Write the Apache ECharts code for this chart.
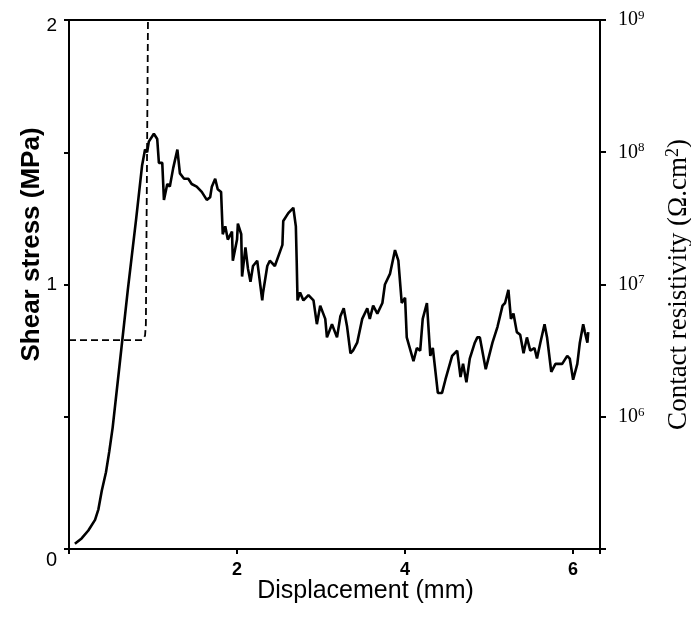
<!DOCTYPE html>
<html>
<head>
<meta charset="utf-8">
<script src="https://cdn.jsdelivr.net/npm/echarts@6/dist/echarts.min.js"></script>
<style>
  html, body { margin: 0; padding: 0; background: #fff; }
  #chart { width: 691px; height: 635px; }
</style>
</head>
<body>
<div id="chart"></div>
<script>
// shear stress curve (solid)
const dispShear = [
  0.07, 0.15, 0.23, 0.31, 0.35, 0.39, 0.44, 0.48, 0.52, 0.60, 0.70, 0.80, 0.87, 0.905,
  0.93, 0.95, 1.01, 1.05, 1.07, 1.11, 1.13, 1.17, 1.20, 1.24, 1.29, 1.32, 1.37, 1.42,
  1.46, 1.52, 1.58, 1.64, 1.68, 1.70, 1.74, 1.77, 1.81, 1.83, 1.86, 1.89, 1.94, 1.95,
  2.00, 2.01, 2.05, 2.06, 2.10, 2.13, 2.16, 2.19, 2.24, 2.30, 2.31, 2.36, 2.39, 2.45,
  2.54, 2.55, 2.61, 2.67, 2.70, 2.71, 2.72, 2.75, 2.79, 2.85, 2.91, 2.95, 2.99, 3.05,
  3.07, 3.13, 3.19, 3.23, 3.27, 3.31, 3.35, 3.38, 3.43, 3.49, 3.55, 3.58, 3.62, 3.67,
  3.73, 3.76, 3.82, 3.88, 3.92, 3.96, 4.00, 4.02, 4.10, 4.14, 4.18, 4.21, 4.26, 4.30,
  4.33, 4.39, 4.44, 4.48, 4.56, 4.62, 4.66, 4.69, 4.73, 4.77, 4.83, 4.86, 4.89, 4.96,
  5.04, 5.10, 5.16, 5.19, 5.23, 5.26, 5.29, 5.33, 5.37, 5.41, 5.45, 5.49, 5.54, 5.57,
  5.61, 5.66, 5.69, 5.74, 5.79, 5.87, 5.93, 5.96, 6.00, 6.05, 6.08, 6.12, 6.14, 6.17, 6.18
];
const shear = [
  0.02, 0.04, 0.07, 0.11, 0.15, 0.22, 0.29, 0.37, 0.46, 0.69, 0.98, 1.25, 1.45, 1.51,
  1.50, 1.54, 1.57, 1.55, 1.46, 1.46, 1.32, 1.38, 1.37, 1.44, 1.51, 1.42, 1.40, 1.40,
  1.38, 1.37, 1.35, 1.32, 1.33, 1.37, 1.40, 1.36, 1.35, 1.19, 1.22, 1.17, 1.20, 1.09,
  1.17, 1.23, 1.19, 1.03, 1.14, 1.06, 1.01, 1.07, 1.09, 0.94, 0.97, 1.07, 1.09, 1.07,
  1.15, 1.24, 1.27, 1.29, 1.22, 1.09, 0.94, 0.97, 0.94, 0.96, 0.94, 0.85, 0.92, 0.87,
  0.80, 0.85, 0.80, 0.88, 0.91, 0.84, 0.74, 0.75, 0.78, 0.87, 0.91, 0.87, 0.92, 0.89,
  0.93, 1.00, 1.04, 1.13, 1.09, 0.93, 0.95, 0.80, 0.71, 0.76, 0.75, 0.87, 0.93, 0.73,
  0.76, 0.59, 0.59, 0.64, 0.73, 0.75, 0.65, 0.70, 0.63, 0.72, 0.78, 0.80, 0.80, 0.68,
  0.78, 0.84, 0.92, 0.93, 0.98, 0.87, 0.89, 0.82, 0.81, 0.74, 0.80, 0.75, 0.76, 0.72,
  0.78, 0.85, 0.80, 0.67, 0.70, 0.70, 0.73, 0.72, 0.64, 0.70, 0.78, 0.85, 0.82, 0.78, 0.82
];

// contact resistivity curve (dashed)
const dispRes = [0, 0.87, 0.905, 0.915, 0.94];
const resistivity = [3.8e6, 3.8e6, 4.1e6, 5e6, 1e9];

// tick labels
const shearLabels = [0, 1, 2];
const dispLabels = [2, 4, 6];
const resExponents = [6, 7, 8, 9];

const chart = echarts.init(document.getElementById("chart"));

const sans = "'Liberation Sans', Arial, sans-serif";
const serif = "'Liberation Serif', 'Times New Roman', serif";
const black = "#000";
const tickStyle = { color: black, width: 2 };

const option = {
  animation: false,
  backgroundColor: "#fff",
  grid: {
    left: 69, right: 91, top: 20, bottom: 86,
    containLabel: false,
    outerBoundsMode: "none",
    show: true,
    borderColor: black,
    borderWidth: 2
  },
  xAxis: {
    type: "value",
    min: 0, max: 6.32, interval: 2,
    position: "bottom",
    axisLine: { show: true, lineStyle: { color: black, width: 2 } },
    axisTick: { show: true, inside: false, length: 5, lineStyle: tickStyle },
    splitLine: { show: false },
    axisLabel: {
      color: black, fontFamily: sans, fontSize: 18, fontWeight: "bold", margin: 12,
      formatter: v => dispLabels.includes(v) ? String(v) : ""
    },
    name: "Displacement (mm)",
    nameLocation: "middle",
    nameGap: 30,
    nameMoveOverlap: false,
    nameTextStyle: { color: black, fontFamily: sans, fontSize: 25, padding: [0, 0, 0, 62] }
  },
  yAxis: [
    {
      type: "value",
      min: 0, max: 2, interval: 0.5,
      position: "left",
      axisLine: { show: true, lineStyle: { color: black, width: 2 } },
      axisTick: { show: true, inside: false, length: 5, lineStyle: tickStyle },
      splitLine: { show: false },
      axisLabel: {
        margin: 12,
        formatter: v => {
          if (!shearLabels.includes(v)) return "";
          if (v === 0) return "{lo|0}";
          if (v === 2) return "{mid|2}";
          return "{n|" + v + "}";
        },
        rich: {
          n: { color: black, fontFamily: sans, fontSize: 19 },
          lo: { color: black, fontFamily: sans, fontSize: 20, padding: [22, 0, 0, 0] },
          mid: { color: black, fontFamily: sans, fontSize: 19, padding: [12, 0, 0, 0] }
        }
      },
      name: "Shear stress (MPa)",
      nameLocation: "middle",
      nameGap: 24,
      nameRotate: 90,
      nameMoveOverlap: false,
      nameTextStyle: { color: black, fontFamily: sans, fontSize: 26, fontWeight: "bold", padding: [0, 0, 0, 80] }
    },
    {
      type: "log",
      logBase: 10,
      min: 1e5, max: 1e9,
      position: "right",
      axisLine: { show: true, lineStyle: { color: black, width: 2 } },
      axisTick: { show: true, inside: false, length: 6, lineStyle: tickStyle },
      splitLine: { show: false },
      axisLabel: {
        margin: 18,
        formatter: v => {
          const e = Math.round(Math.log10(v));
          return resExponents.includes(e) ? "{b|10}{s|" + e + "}" : "";
        },
        rich: {
          b: { color: black, fontFamily: serif, fontSize: 20 },
          s: { color: black, fontFamily: serif, fontSize: 13, padding: [0, 0, 9, 0] }
        }
      },
      name: "{a|Contact resistivity (Ω.cm}{s|2}{a|)}",
      nameLocation: "middle",
      nameGap: 64,
      nameRotate: 90,
      nameMoveOverlap: false,
      nameTextStyle: {
        rich: {
          a: { color: black, fontFamily: serif, fontSize: 27 },
          s: { color: black, fontFamily: serif, fontSize: 18, padding: [0, 0, 12, 0] }
        }
      }
    }
  ],
  series: [
    {
      name: "Shear stress",
      type: "line",
      yAxisIndex: 0,
      data: dispShear.map((x, i) => [x, shear[i]]),
      symbol: "none",
      lineStyle: { color: black, width: 2.6 }
    },
    {
      name: "Contact resistivity",
      type: "line",
      yAxisIndex: 1,
      data: dispRes.map((x, i) => [x, resistivity[i]]),
      symbol: "none",
      lineStyle: { color: black, width: 1.8, type: [7, 4] }
    }
  ]
};

chart.setOption(option);
</script>
</body>
</html>
